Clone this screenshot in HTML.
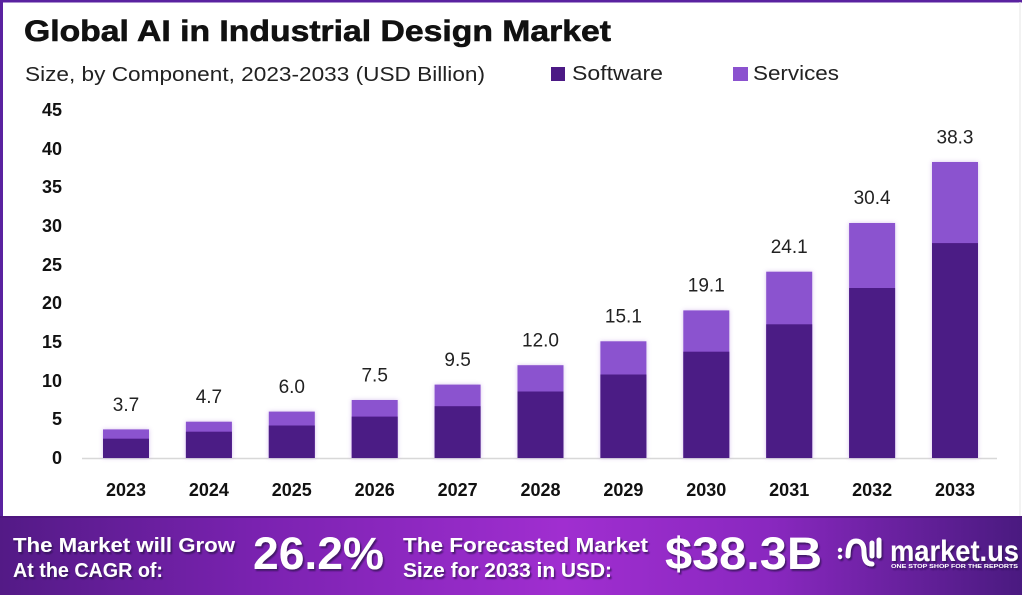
<!DOCTYPE html>
<html><head><meta charset="utf-8"><style>
html,body{margin:0;padding:0;background:#fff;}
svg{display:block;}
</style></head><body>
<svg width="1022" height="595" viewBox="0 0 1022 595" xmlns="http://www.w3.org/2000/svg">
<defs>
<linearGradient id="bn" x1="0" y1="0" x2="1" y2="0">
<stop offset="0" stop-color="#531a86"/>
<stop offset="0.25" stop-color="#7a22b0"/>
<stop offset="0.55" stop-color="#a02ed0"/>
<stop offset="0.75" stop-color="#8a28c0"/>
<stop offset="1" stop-color="#4a1a80"/>
</linearGradient>
<filter id="sh" x="-20%" y="-20%" width="140%" height="140%">
<feDropShadow dx="0" dy="0" stdDeviation="2" flood-color="#8a50cf" flood-opacity="0.35"/>
</filter>
<filter id="ts" x="-10%" y="-20%" width="120%" height="150%">
<feDropShadow dx="1.5" dy="2" stdDeviation="0.8" flood-color="#2a0848" flood-opacity="0.7"/>
</filter>
</defs>
<rect x="0" y="0" width="1022" height="595" fill="#fff"/>
<rect x="0" y="0" width="1022" height="2.5" fill="#5a22a0"/>
<rect x="0" y="0" width="3" height="517" fill="#5a22a0"/>
<rect x="1019.5" y="2" width="1" height="515" fill="#e4e4e4"/>

<g font-family="Liberation Sans, sans-serif">
<text x="24" y="41" font-size="30" font-weight="bold" fill="#111" stroke="#111" stroke-width="0.6" textLength="587" lengthAdjust="spacingAndGlyphs">Global AI in Industrial Design Market</text>
<text x="25" y="81" font-size="20" fill="#222" textLength="460" lengthAdjust="spacingAndGlyphs">Size, by Component, 2023-2033 (USD Billion)</text>
<rect x="551" y="67" width="14" height="14" fill="#4c1a85"/>
<text x="572" y="80" font-size="20" fill="#222" textLength="91" lengthAdjust="spacingAndGlyphs">Software</text>
<rect x="733" y="67" width="15" height="14" fill="#8b52cf"/>
<text x="753" y="80" font-size="20" fill="#222" textLength="86" lengthAdjust="spacingAndGlyphs">Services</text>

<g font-size="18" font-weight="bold" fill="#111" text-anchor="end">
<text x="62" y="116">45</text>
<text x="62" y="155">40</text>
<text x="62" y="193">35</text>
<text x="62" y="232">30</text>
<text x="62" y="271">25</text>
<text x="62" y="309">20</text>
<text x="62" y="348">15</text>
<text x="62" y="387">10</text>
<text x="62" y="425">5</text>
<text x="62" y="464">0</text>
</g>

<line x1="82" y1="458.5" x2="997" y2="458.5" stroke="#d8d8d8" stroke-width="1.5"/>

<g filter="url(#sh)">
<rect x="103" y="429.4" width="46" height="28.6" fill="#8b52cf"/><rect x="103" y="438.7" width="46" height="19.3" fill="#4c1a85"/>
<rect x="185.9" y="421.7" width="46" height="36.3" fill="#8b52cf"/><rect x="185.9" y="431.7" width="46" height="26.3" fill="#4c1a85"/>
<rect x="268.8" y="411.6" width="46" height="46.4" fill="#8b52cf"/><rect x="268.8" y="425.5" width="46" height="32.5" fill="#4c1a85"/>
<rect x="351.7" y="400" width="46" height="58" fill="#8b52cf"/><rect x="351.7" y="416.6" width="46" height="41.4" fill="#4c1a85"/>
<rect x="434.6" y="384.6" width="46" height="73.4" fill="#8b52cf"/><rect x="434.6" y="406.2" width="46" height="51.8" fill="#4c1a85"/>
<rect x="517.5" y="365.2" width="46" height="92.8" fill="#8b52cf"/><rect x="517.5" y="391.5" width="46" height="66.5" fill="#4c1a85"/>
<rect x="600.4" y="341.3" width="46" height="116.7" fill="#8b52cf"/><rect x="600.4" y="374.5" width="46" height="83.5" fill="#4c1a85"/>
<rect x="683.3" y="310.4" width="46" height="147.6" fill="#8b52cf"/><rect x="683.3" y="351.7" width="46" height="106.3" fill="#4c1a85"/>
<rect x="766.2" y="271.7" width="46" height="186.3" fill="#8b52cf"/><rect x="766.2" y="324.3" width="46" height="133.7" fill="#4c1a85"/>
<rect x="849.1" y="223" width="46" height="235" fill="#8b52cf"/><rect x="849.1" y="288" width="46" height="170" fill="#4c1a85"/>
<rect x="932" y="162" width="46" height="296" fill="#8b52cf"/><rect x="932" y="243.1" width="46" height="214.9" fill="#4c1a85"/>
</g>

<g font-size="19" fill="#222" text-anchor="middle">
<text x="126" y="411">3.7</text>
<text x="208.9" y="403">4.7</text>
<text x="291.8" y="393">6.0</text>
<text x="374.7" y="381.5">7.5</text>
<text x="457.6" y="366">9.5</text>
<text x="540.5" y="346.5">12.0</text>
<text x="623.4" y="322.5">15.1</text>
<text x="706.3" y="291.5">19.1</text>
<text x="789.2" y="253">24.1</text>
<text x="872.1" y="204">30.4</text>
<text x="955" y="143.5">38.3</text>
</g>

<g font-size="18" font-weight="bold" fill="#111" text-anchor="middle">
<text x="126" y="496">2023</text>
<text x="208.9" y="496">2024</text>
<text x="291.8" y="496">2025</text>
<text x="374.7" y="496">2026</text>
<text x="457.6" y="496">2027</text>
<text x="540.5" y="496">2028</text>
<text x="623.4" y="496">2029</text>
<text x="706.3" y="496">2030</text>
<text x="789.2" y="496">2031</text>
<text x="872.1" y="496">2032</text>
<text x="955" y="496">2033</text>
</g>

<rect x="0" y="516" width="1022" height="79" fill="url(#bn)"/>
<rect x="0" y="516" width="1022" height="2" fill="#4a1478" opacity="0.6"/>
<g fill="#fff" font-weight="bold" filter="url(#ts)">
<text x="13" y="552" font-size="20" textLength="222" lengthAdjust="spacingAndGlyphs">The Market will Grow</text>
<text x="13" y="577" font-size="20" textLength="150" lengthAdjust="spacingAndGlyphs">At the CAGR of:</text>
<text x="253" y="569" font-size="45" textLength="131" lengthAdjust="spacingAndGlyphs">26.2%</text>
<text x="403" y="552" font-size="20" textLength="245" lengthAdjust="spacingAndGlyphs">The Forecasted Market</text>
<text x="403" y="577" font-size="20" textLength="209" lengthAdjust="spacingAndGlyphs">Size for 2033 in USD:</text>
<text x="665" y="569" font-size="45" textLength="157" lengthAdjust="spacingAndGlyphs">$38.3B</text>
<g stroke="#fff" stroke-width="5" fill="none" stroke-linecap="round">
<path d="M848 556 Q848 541 856 541 Q864 541 864 552 Q864 564 872 564"/>
<line x1="872" y1="543" x2="872" y2="556"/>
<line x1="879" y1="540" x2="879" y2="556"/>
</g>
<circle cx="840" cy="550" r="2.2"/>
<circle cx="840" cy="557" r="2.2"/>
<text x="890" y="561" font-size="30" textLength="129" lengthAdjust="spacingAndGlyphs">market.us</text>
<text x="891" y="568" font-size="5.5" textLength="127" lengthAdjust="spacingAndGlyphs">ONE STOP SHOP FOR THE REPORTS</text>
</g>
</g>
</svg>
</body></html>
